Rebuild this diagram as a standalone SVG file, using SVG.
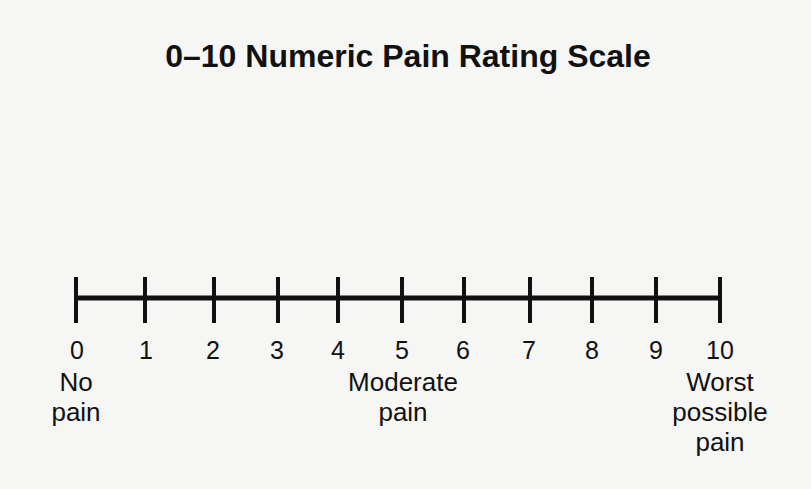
<svg xmlns="http://www.w3.org/2000/svg" width="811" height="489" viewBox="0 0 811 489">
<style>
text{font-family:"Liberation Sans",Arial,sans-serif;fill:#111;text-anchor:middle}
.t{font-size:32px;font-weight:bold}
.n{font-size:25px}
.l{font-size:26px}
.tick{stroke:#111;stroke-width:4}
.axis{stroke:#111;stroke-width:5}
</style>
<rect width="811" height="489" fill="#f6f6f4"/>
<text class="t" x="408" y="67">0–10 Numeric Pain Rating Scale</text>
<g id="scale">
<line class="axis" x1="75" y1="298" x2="721" y2="298"/>
<g id="ticks">
<line class="tick" x1="76" y1="277" x2="76" y2="323"/>
<line class="tick" x1="145" y1="277" x2="145" y2="323"/>
<line class="tick" x1="214" y1="277" x2="214" y2="323"/>
<line class="tick" x1="278" y1="277" x2="278" y2="323"/>
<line class="tick" x1="338" y1="277" x2="338" y2="323"/>
<line class="tick" x1="402" y1="277" x2="402" y2="323"/>
<line class="tick" x1="464" y1="277" x2="464" y2="323"/>
<line class="tick" x1="530" y1="277" x2="530" y2="323"/>
<line class="tick" x1="592" y1="277" x2="592" y2="323"/>
<line class="tick" x1="656" y1="277" x2="656" y2="323"/>
<line class="tick" x1="720" y1="277" x2="720" y2="323"/>
</g>
</g>
<g id="numbers" class="n">
<text class="n" x="77" y="359">0</text>
<text class="n" x="146" y="359">1</text>
<text class="n" x="213" y="359">2</text>
<text class="n" x="277" y="359">3</text>
<text class="n" x="338" y="359">4</text>
<text class="n" x="402" y="359">5</text>
<text class="n" x="463" y="359">6</text>
<text class="n" x="529" y="359">7</text>
<text class="n" x="592" y="359">8</text>
<text class="n" x="656" y="359">9</text>
<text class="n" x="720" y="359">10</text>
</g>
<g id="label-none">
<text class="l" x="76" y="391">No</text>
<text class="l" x="76" y="421">pain</text>
</g>
<g id="label-moderate">
<text class="l" x="403" y="391">Moderate</text>
<text class="l" x="403" y="421">pain</text>
</g>
<g id="label-worst">
<text class="l" x="720" y="391">Worst</text>
<text class="l" x="720" y="421">possible</text>
<text class="l" x="720" y="451">pain</text>
</g>
</svg>
